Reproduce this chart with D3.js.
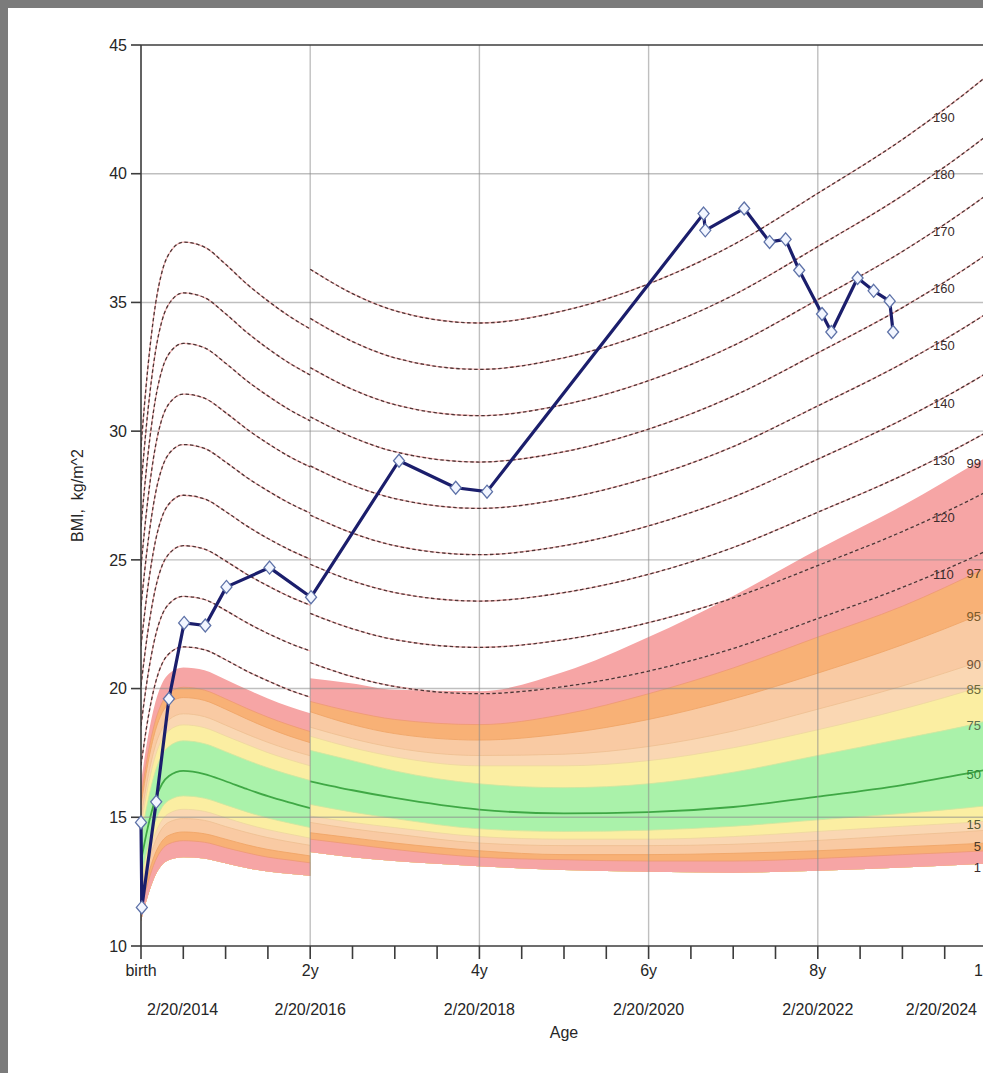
<!DOCTYPE html>
<html><head><meta charset="utf-8">
<script src="https://cdn.jsdelivr.net/npm/d3@7"></script>
<style>
html,body{margin:0;padding:0;background:#7b7b7b;overflow:hidden}
svg{display:block}
text{font-family:"Liberation Sans",Arial,sans-serif}
</style></head><body>
<svg id="chart" width="983" height="1073"></svg>
<script>
// ---------------- DATA ----------------
const pctLevels = [1, 3, 5, 10, 15, 25, 50, 75, 85, 90, 95, 97, 99];

// 0-2 years reference (one row per percentile level)
const infantAges = [0, 0.08, 0.17, 0.25, 0.33, 0.5, 0.75, 1, 1.25, 1.5, 1.75, 2];
const infantPercentiles = [
  [10.97, 11.93, 12.75, 13.16, 13.34, 13.45, 13.40, 13.21, 13.03, 12.89, 12.81, 12.73],
  [11.42, 12.44, 13.31, 13.76, 13.97, 14.09, 14.03, 13.82, 13.62, 13.45, 13.34, 13.23],
  [11.66, 12.71, 13.61, 14.08, 14.30, 14.43, 14.36, 14.15, 13.93, 13.75, 13.62, 13.50],
  [12.02, 13.13, 14.07, 14.57, 14.81, 14.95, 14.88, 14.64, 14.41, 14.21, 14.05, 13.91],
  [12.26, 13.41, 14.38, 14.90, 15.15, 15.31, 15.23, 14.98, 14.73, 14.52, 14.35, 14.19],
  [12.63, 13.83, 14.84, 15.39, 15.66, 15.83, 15.74, 15.48, 15.21, 14.97, 14.78, 14.60],
  [13.30, 14.60, 15.70, 16.30, 16.60, 16.80, 16.68, 16.40, 16.10, 15.82, 15.58, 15.36],
  [14.19, 15.61, 16.79, 17.43, 17.75, 17.97, 17.86, 17.55, 17.22, 16.92, 16.66, 16.43],
  [14.67, 16.15, 17.38, 18.04, 18.37, 18.59, 18.48, 18.16, 17.83, 17.51, 17.24, 17.00],
  [14.99, 16.52, 17.78, 18.45, 18.79, 19.02, 18.91, 18.58, 18.23, 17.91, 17.63, 17.39],
  [15.47, 17.07, 18.37, 19.06, 19.41, 19.65, 19.54, 19.20, 18.82, 18.47, 18.16, 17.90],
  [15.78, 17.42, 18.75, 19.46, 19.82, 20.05, 19.94, 19.60, 19.23, 18.89, 18.59, 18.33],
  [16.37, 18.09, 19.47, 20.21, 20.58, 20.82, 20.71, 20.35, 19.97, 19.61, 19.30, 19.04]
];

// 2+ years reference
const childAges = [2, 2.5, 3, 4, 5, 6, 7, 8, 9, 10, 10.5];
const childPercentiles = [
  [13.65, 13.45, 13.30, 13.10, 12.95, 12.88, 12.85, 12.92, 13.05, 13.20, 13.30],
  [14.15, 13.95, 13.75, 13.45, 13.35, 13.30, 13.30, 13.40, 13.55, 13.70, 13.80],
  [14.40, 14.20, 14.00, 13.70, 13.55, 13.55, 13.60, 13.70, 13.85, 14.00, 14.10],
  [14.80, 14.55, 14.35, 14.00, 13.90, 13.90, 13.95, 14.10, 14.30, 14.50, 14.65],
  [15.05, 14.80, 14.60, 14.25, 14.15, 14.15, 14.25, 14.45, 14.65, 14.85, 15.00],
  [15.50, 15.20, 14.95, 14.55, 14.45, 14.50, 14.65, 14.90, 15.15, 15.45, 15.65],
  [16.40, 16.05, 15.75, 15.30, 15.15, 15.20, 15.40, 15.80, 16.25, 16.85, 17.15],
  [17.60, 17.20, 16.80, 16.30, 16.15, 16.30, 16.75, 17.40, 18.05, 18.75, 19.25],
  [18.15, 17.70, 17.35, 17.00, 17.00, 17.20, 17.70, 18.40, 19.20, 20.15, 20.70],
  [18.50, 18.05, 17.70, 17.40, 17.45, 17.75, 18.35, 19.20, 20.10, 21.15, 21.75],
  [19.10, 18.60, 18.25, 18.00, 18.25, 18.80, 19.60, 20.60, 21.70, 23.00, 23.75],
  [19.50, 19.10, 18.80, 18.60, 19.00, 19.80, 20.80, 22.00, 23.20, 24.70, 25.50],
  [20.40, 20.20, 19.95, 19.90, 20.65, 22.00, 23.60, 25.40, 27.10, 29.00, 29.90]
];

// "% of 95th percentile" curves
const pctOf95Levels = [110, 120, 130, 140, 150, 160, 170, 180, 190];
const infantPctOf95 = [
  [17.02, 18.78, 20.21, 20.97, 21.35, 21.62, 21.51, 21.12, 20.68, 20.30, 19.95, 19.67],
  [18.56, 20.48, 22.04, 22.87, 23.29, 23.58, 23.46, 23.04, 22.56, 22.14, 21.77, 21.46],
  [20.11, 22.19, 23.88, 24.78, 25.23, 25.55, 25.42, 24.96, 24.44, 23.99, 23.58, 23.24],
  [21.66, 23.90, 25.72, 26.68, 27.17, 27.51, 27.37, 26.88, 26.32, 25.83, 25.40, 25.03],
  [23.21, 25.61, 27.56, 28.59, 29.12, 29.48, 29.33, 28.80, 28.20, 27.68, 27.21, 26.82],
  [24.75, 27.31, 29.39, 30.50, 31.06, 31.44, 31.28, 30.72, 30.08, 29.52, 29.02, 28.61],
  [26.30, 29.02, 31.23, 32.40, 33.00, 33.41, 33.24, 32.64, 31.96, 31.37, 30.84, 30.40],
  [27.85, 30.73, 33.07, 34.31, 34.94, 35.37, 35.19, 34.56, 33.84, 33.21, 32.65, 32.18],
  [29.39, 32.43, 34.90, 36.21, 36.88, 37.34, 37.15, 36.48, 35.72, 35.06, 34.47, 33.97]
];
const childPctOf95 = [
  [21.01, 20.46, 20.08, 19.80, 20.08, 20.68, 21.56, 22.72, 23.93, 25.36, 26.18],
  [22.92, 22.32, 21.90, 21.60, 21.90, 22.56, 23.52, 24.78, 26.10, 27.66, 28.56],
  [24.83, 24.18, 23.73, 23.40, 23.73, 24.44, 25.48, 26.85, 28.28, 29.97, 30.94],
  [26.74, 26.04, 25.55, 25.20, 25.55, 26.32, 27.44, 28.91, 30.45, 32.27, 33.32],
  [28.65, 27.90, 27.38, 27.00, 27.38, 28.20, 29.40, 30.98, 32.63, 34.58, 35.70],
  [30.56, 29.76, 29.20, 28.80, 29.20, 30.08, 31.36, 33.04, 34.80, 36.88, 38.08],
  [32.47, 31.62, 31.03, 30.60, 31.03, 31.96, 33.32, 35.11, 36.98, 39.19, 40.46],
  [34.38, 33.48, 32.85, 32.40, 32.85, 33.84, 35.28, 37.17, 39.15, 41.49, 42.84],
  [36.29, 35.34, 34.68, 34.20, 34.68, 35.72, 37.24, 39.24, 41.33, 43.80, 45.22]
];

// patient measurements
const patientAges = [0, 0.01, 0.18, 0.33, 0.51, 0.76, 1.01, 1.52, 2.01, 3.05, 3.72, 4.09,
  6.65, 6.67, 7.13, 7.43, 7.62, 7.78, 8.05, 8.16, 8.47, 8.66, 8.85, 8.89];
const patientBMI = [14.8, 11.5, 15.6, 19.6, 22.55, 22.45, 23.95, 24.7, 23.55, 28.85, 27.8, 27.65,
  38.45, 37.8, 38.65, 37.35, 37.45, 36.25, 34.55, 33.85, 35.95, 35.45, 35.05, 33.85];

// axis labels
const yTicks = [10, 15, 20, 25, 30, 35, 40, 45];
const xMajorAges = [0, 2, 4, 6, 8, 10];
const xMajorLabels = ["birth", "2y", "4y", "6y", "8y", "10y"];
const xMinorAges = d3.range(0, 10.01, 0.5);
const dateLabels = ["2/20/2014", "2/20/2016", "2/20/2018", "2/20/2020", "2/20/2022", "2/20/2024"];
const labeledPercentiles = [99, 97, 95, 90, 85, 75, 50, 15, 5, 1];

// ---------------- STYLE ----------------
const bandColors = ['#f6a5a5', '#f8b176', '#f9caa3', '#fad7b3', '#fbeea2', '#aaf2aa',
                    '#aaf2aa', '#fbeea2', '#fad7b3', '#f9caa3', '#f8b176', '#f6a5a5'];
const edgeColors = {3:'#ee9a74', 5:'#f0a466', 10:'#efbf92', 15:'#eed7a0', 25:'#cfe6a0',
                    75:'#cfe6a0', 85:'#eed7a0', 90:'#efbf92', 95:'#f0a466', 97:'#ee9a74'};
const pctLabelColors = {99:'#3a2a2a', 97:'#5e3f22', 95:'#7a5a2a', 90:'#6e5338', 85:'#6b6a3a',
                        75:'#5b7050', 50:'#2f8a3a', 15:'#555a35', 5:'#4a3a2a', 1:'#3a2a2a'};

const W = 983, H = 1073;
const svg = d3.select('#chart');
const x = d3.scaleLinear().domain([0, 10]).range([141, 987]);
const y = d3.scaleLinear().domain([10, 45]).range([946, 45]);
const [x0, x1] = x.range();
const [yb, yt] = y.range();

svg.append('rect').attr('width', W).attr('height', H).attr('fill', '#7b7b7b');
svg.append('rect').attr('x', 8).attr('y', 8).attr('width', W - 8).attr('height', H - 8).attr('fill', '#ffffff');

svg.append('defs').append('clipPath').attr('id', 'plotclip')
  .append('rect').attr('x', x0).attr('y', yt).attr('width', x1 - x0).attr('height', yb - yt);

const plot = svg.append('g').attr('clip-path', 'url(#plotclip)');

// bands
function drawBands(ages, table) {
  const g = plot.append('g');
  for (let i = pctLevels.length - 2; i >= 0; i--) {
    const data = ages.map((a, j) => ({a, lo: table[0][j], hi: table[i + 1][j]}));
    g.append('path').datum(data)
      .attr('d', d3.area().x(d => x(d.a)).y0(d => y(d.lo)).y1(d => y(d.hi)).curve(d3.curveMonotoneX))
      .attr('fill', bandColors[i]);
  }
  pctLevels.forEach((lev, i) => {
    if (!edgeColors[lev]) return;
    const data = ages.map((a, j) => ({a, v: table[i][j]}));
    g.append('path').datum(data)
      .attr('d', d3.line().x(d => x(d.a)).y(d => y(d.v)).curve(d3.curveMonotoneX))
      .attr('fill', 'none').attr('stroke', edgeColors[lev]).attr('stroke-width', 1).attr('opacity', 0.85);
  });
  const mi = pctLevels.indexOf(50);
  g.append('path').datum(ages.map((a, j) => ({a, v: table[mi][j]})))
    .attr('d', d3.line().x(d => x(d.a)).y(d => y(d.v)).curve(d3.curveMonotoneX))
    .attr('fill', 'none').attr('stroke', '#3fa845').attr('stroke-width', 1.8);
}
drawBands(infantAges, infantPercentiles);
drawBands(childAges, childPercentiles);

// grid
const grid = plot.append('g').attr('stroke', '#8a8a8a').attr('stroke-opacity', 0.55).attr('stroke-width', 1.4);
yTicks.filter(v => v > 10 && v < 45).forEach(v => {
  grid.append('line').attr('x1', x0).attr('x2', x1).attr('y1', y(v)).attr('y2', y(v));
});
xMajorAges.filter(a => a > 0 && a < 10).forEach(a => {
  grid.append('line').attr('x1', x(a)).attr('x2', x(a)).attr('y1', yt).attr('y2', yb);
});

// % of 95th curves
function drawPctCurves(ages, table) {
  const g = plot.append('g');
  table.forEach(row => {
    const data = ages.map((a, j) => ({a, v: row[j]}));
    const line = d3.line().x(d => x(d.a)).y(d => y(d.v)).curve(d3.curveMonotoneX);
    g.append('path').datum(data).attr('d', line).attr('fill', 'none')
      .attr('stroke', '#efb0b0').attr('stroke-width', 1.3);
    g.append('path').datum(data).attr('d', line).attr('fill', 'none')
      .attr('stroke', '#4d3434').attr('stroke-width', 1.3).attr('stroke-dasharray', '3.5,2.5');
  });
}
drawPctCurves(infantAges, infantPctOf95);
drawPctCurves(childAges, childPctOf95);

// labels for % curves
const pctLabelAge = 9.35;
pctOf95Levels.forEach((lev, i) => {
  const v = d3.scaleLinear().domain(childAges).range(childPctOf95[i])(pctLabelAge);
  svg.append('text').attr('x', x(pctLabelAge) + 1).attr('y', y(v)).attr('dy', '0.35em')
    .attr('font-size', 13).attr('fill', '#3a2c2c').text(lev);
});
// percentile labels
const pLabelAge = 9.93;
labeledPercentiles.forEach(lev => {
  const i = pctLevels.indexOf(lev);
  const v = d3.scaleLinear().domain(childAges).range(childPercentiles[i])(pLabelAge);
  svg.append('text').attr('x', x(pLabelAge)).attr('y', y(v)).attr('dy', '0.6em')
    .attr('text-anchor', 'end').attr('font-size', 13).attr('fill', pctLabelColors[lev]).text(lev);
});

// axes
const ax = svg.append('g').attr('stroke', '#3c3c3c').attr('stroke-width', 1.6);
ax.append('line').attr('x1', x0).attr('x2', W).attr('y1', yt).attr('y2', yt);
ax.append('line').attr('x1', x0).attr('x2', W).attr('y1', yb).attr('y2', yb);
ax.append('line').attr('x1', x0).attr('x2', x0).attr('y1', yt).attr('y2', yb);
yTicks.forEach(v => {
  ax.append('line').attr('x1', x0 - 10).attr('x2', x0).attr('y1', y(v)).attr('y2', y(v));
  svg.append('text').attr('x', x0 - 14).attr('y', y(v)).attr('dy', '0.36em').attr('text-anchor', 'end')
    .attr('font-size', 16).attr('fill', '#262626').text(v);
});
xMinorAges.forEach(a => {
  ax.append('line').attr('x1', x(a)).attr('x2', x(a)).attr('y1', yb).attr('y2', yb + 13);
});
xMajorAges.forEach((a, i) => {
  svg.append('text').attr('x', x(a)).attr('y', yb + 30).attr('text-anchor', 'middle')
    .attr('font-size', 16).attr('fill', '#262626').text(xMajorLabels[i]);
});
xMajorAges.forEach((a, i) => {
  let xp = x(a), anchor = 'middle';
  if (i === 0) { xp = x(a) + 6; anchor = 'start'; }
  if (i === xMajorAges.length - 1) { xp = Math.min(x(a), W - 6); anchor = 'end'; }
  svg.append('text').attr('x', xp).attr('y', yb + 69).attr('text-anchor', anchor)
    .attr('font-size', 16).attr('fill', '#262626').text(dateLabels[i]);
});
svg.append('text').attr('x', (x0 + x1) / 2).attr('y', yb + 92).attr('text-anchor', 'middle')
  .attr('font-size', 16).attr('fill', '#262626').text('Age');
svg.append('text').attr('transform', `translate(83,${(yt + yb) / 2}) rotate(-90)`)
  .attr('text-anchor', 'middle').attr('font-size', 16).attr('fill', '#262626').text('BMI,  kg/m^2')
  .style('white-space', 'pre');

// patient line + markers
const pts = patientAges.map((a, i) => ({a, v: patientBMI[i]}));
svg.append('path').datum(pts)
  .attr('d', d3.line().x(d => x(d.a)).y(d => y(d.v)))
  .attr('fill', 'none').attr('stroke', '#1b1e6c').attr('stroke-width', 3.2).attr('stroke-linejoin', 'round');
svg.append('g').selectAll('path').data(pts).join('path')
  .attr('transform', d => `translate(${x(d.a)},${y(d.v)})`)
  .attr('d', 'M0,-6.5L5.5,0L0,6.5L-5.5,0Z')
  .attr('fill', '#f2f6ff').attr('stroke', '#5e72a8').attr('stroke-width', 1.3);
</script>
</body></html>
